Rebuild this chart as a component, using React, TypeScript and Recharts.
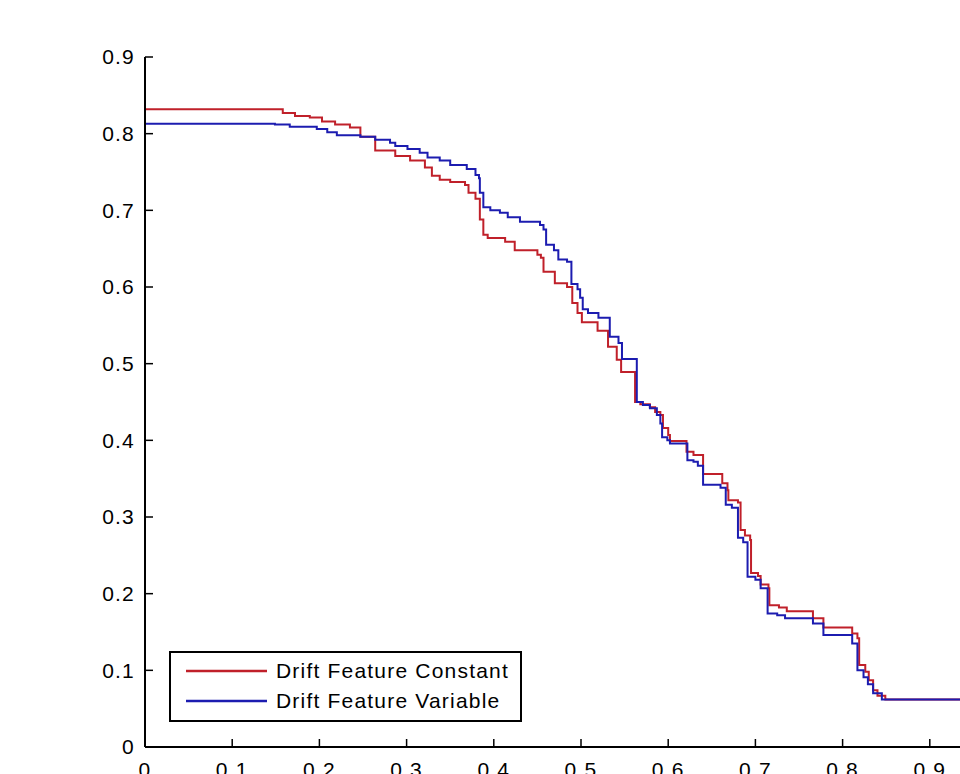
import { LineChart, Line, XAxis, YAxis, Legend } from 'recharts';

// Step curves (x = recall-ish axis, y = value)
const constantX = [0, 0.158, 0.172, 0.189, 0.203, 0.218, 0.235, 0.247, 0.264, 0.287, 0.304, 0.321, 0.329, 0.338, 0.35, 0.367, 0.371, 0.379, 0.384, 0.388, 0.393, 0.413, 0.424, 0.45, 0.454, 0.457, 0.47, 0.484, 0.49, 0.496, 0.501, 0.519, 0.531, 0.541, 0.546, 0.562, 0.568, 0.579, 0.585, 0.591, 0.594, 0.6, 0.602, 0.621, 0.629, 0.64, 0.662, 0.668, 0.669, 0.68, 0.683, 0.688, 0.694, 0.695, 0.703, 0.706, 0.715, 0.716, 0.727, 0.736, 0.766, 0.778, 0.811, 0.817, 0.819, 0.826, 0.83, 0.835, 0.84, 0.849, 1.0];
const constantY = [0.832, 0.827, 0.823, 0.821, 0.816, 0.812, 0.808, 0.796, 0.778, 0.771, 0.765, 0.756, 0.745, 0.74, 0.737, 0.733, 0.723, 0.715, 0.688, 0.668, 0.664, 0.659, 0.648, 0.642, 0.638, 0.62, 0.605, 0.6, 0.579, 0.566, 0.554, 0.543, 0.522, 0.505, 0.489, 0.45, 0.447, 0.443, 0.437, 0.433, 0.416, 0.407, 0.399, 0.385, 0.381, 0.356, 0.344, 0.335, 0.322, 0.319, 0.283, 0.276, 0.27, 0.227, 0.223, 0.212, 0.207, 0.185, 0.182, 0.177, 0.168, 0.156, 0.148, 0.142, 0.107, 0.098, 0.087, 0.074, 0.067, 0.062, 0.061];

const variableX = [0, 0.149, 0.166, 0.197, 0.209, 0.22, 0.247, 0.264, 0.281, 0.287, 0.301, 0.315, 0.324, 0.338, 0.35, 0.369, 0.379, 0.383, 0.384, 0.388, 0.396, 0.407, 0.416, 0.43, 0.453, 0.457, 0.46, 0.469, 0.474, 0.484, 0.489, 0.496, 0.499, 0.502, 0.508, 0.52, 0.533, 0.543, 0.547, 0.564, 0.571, 0.579, 0.587, 0.591, 0.593, 0.599, 0.602, 0.622, 0.629, 0.634, 0.64, 0.66, 0.666, 0.673, 0.68, 0.686, 0.691, 0.7, 0.706, 0.714, 0.725, 0.734, 0.766, 0.778, 0.811, 0.817, 0.824, 0.829, 0.835, 0.845, 1.0];
const variableY = [0.813, 0.812, 0.809, 0.806, 0.802, 0.798, 0.796, 0.792, 0.788, 0.784, 0.78, 0.775, 0.769, 0.765, 0.759, 0.754, 0.746, 0.742, 0.723, 0.704, 0.7, 0.697, 0.691, 0.685, 0.681, 0.675, 0.655, 0.648, 0.636, 0.633, 0.604, 0.597, 0.586, 0.571, 0.566, 0.56, 0.535, 0.527, 0.506, 0.45, 0.446, 0.442, 0.433, 0.422, 0.404, 0.4, 0.396, 0.374, 0.372, 0.367, 0.342, 0.338, 0.316, 0.312, 0.273, 0.267, 0.222, 0.218, 0.207, 0.174, 0.172, 0.168, 0.161, 0.146, 0.135, 0.1, 0.091, 0.082, 0.07, 0.062, 0.061];

const xTicks = [0, 0.1, 0.2, 0.3, 0.4, 0.5, 0.6, 0.7, 0.8, 0.9, 1];
const yTicks = [0, 0.1, 0.2, 0.3, 0.4, 0.5, 0.6, 0.7, 0.8, 0.9];

const constantData = constantX.map((x, i) => ({ x, y: constantY[i] }));
const variableData = variableX.map((x, i) => ({ x, y: variableY[i] }));

const RED = '#c0202a';
const BLUE = '#1c1cb0';
const FONT = '"Liberation Sans", Arial, Helvetica, sans-serif';
const tickStyle = { fill: '#000', fontSize: 21, fontFamily: FONT, letterSpacing: 1.2 };

const fmt = (v: number) => (v === 0 ? '0' : Number.isInteger(v) ? String(v) : v.toFixed(1));

const renderLegend = (props: any) => {
  const { payload } = props;
  return (
    <div
      style={{
        width: 353,
        height: 71,
        border: '2px solid #000',
        background: '#fff',
        boxSizing: 'border-box',
        fontFamily: FONT,
        fontSize: 21,
        letterSpacing: 1.2,
        color: '#000',
        paddingTop: 3,
        textAlign: 'left',
      }}
    >
      {payload.map((entry: any) => (
        <div key={entry.value} style={{ display: 'flex', alignItems: 'center', height: 30 }}>
          <svg width={105} height={10} style={{ flex: 'none' }}>
            <line x1={15} y1={5} x2={96} y2={5} stroke={entry.color} strokeWidth={2.5} />
          </svg>
          <span style={{ whiteSpace: 'nowrap' }}>{entry.value}</span>
        </div>
      ))}
    </div>
  );
};

export default function App() {
  return (
    <div
      style={{
        position: 'absolute',
        left: 0,
        top: 0,
        width: 960,
        height: 774,
        overflow: 'hidden',
        background: '#fff',
      }}
    >
      <LineChart
        width={1100}
        height={850}
        margin={{ top: 57, right: 83, left: 0, bottom: 63 }}
      >
        <XAxis
          type="number"
          dataKey="x"
          domain={[0, 1]}
          ticks={xTicks}
          interval={0}
          tickFormatter={fmt}
          height={40}
          tickSize={-8}
          tickMargin={23}
          axisLine={{ stroke: '#000', strokeWidth: 2 }}
          tickLine={{ stroke: '#000', strokeWidth: 1.5 }}
          tick={tickStyle}
        />
        <YAxis
          type="number"
          domain={[0, 0.9]}
          ticks={yTicks}
          interval={0}
          tickFormatter={fmt}
          width={145}
          tickSize={-8}
          tickMargin={18}
          axisLine={{ stroke: '#000', strokeWidth: 2 }}
          tickLine={{ stroke: '#000', strokeWidth: 1.5 }}
          tick={tickStyle}
        />
        <Legend
          layout="vertical"
          align="center"
          verticalAlign="middle"
          content={renderLegend}
          wrapperStyle={{ position: 'absolute', left: 169, top: 651, width: 353, height: 71 }}
        />
        <Line
          data={constantData}
          dataKey="y"
          name="Drift Feature Constant"
          type="stepAfter"
          stroke={RED}
          strokeWidth={2}
          dot={false}
          isAnimationActive={false}
        />
        <Line
          data={variableData}
          dataKey="y"
          name="Drift Feature Variable"
          type="stepAfter"
          stroke={BLUE}
          strokeWidth={2}
          dot={false}
          isAnimationActive={false}
        />
      </LineChart>
    </div>
  );
}
